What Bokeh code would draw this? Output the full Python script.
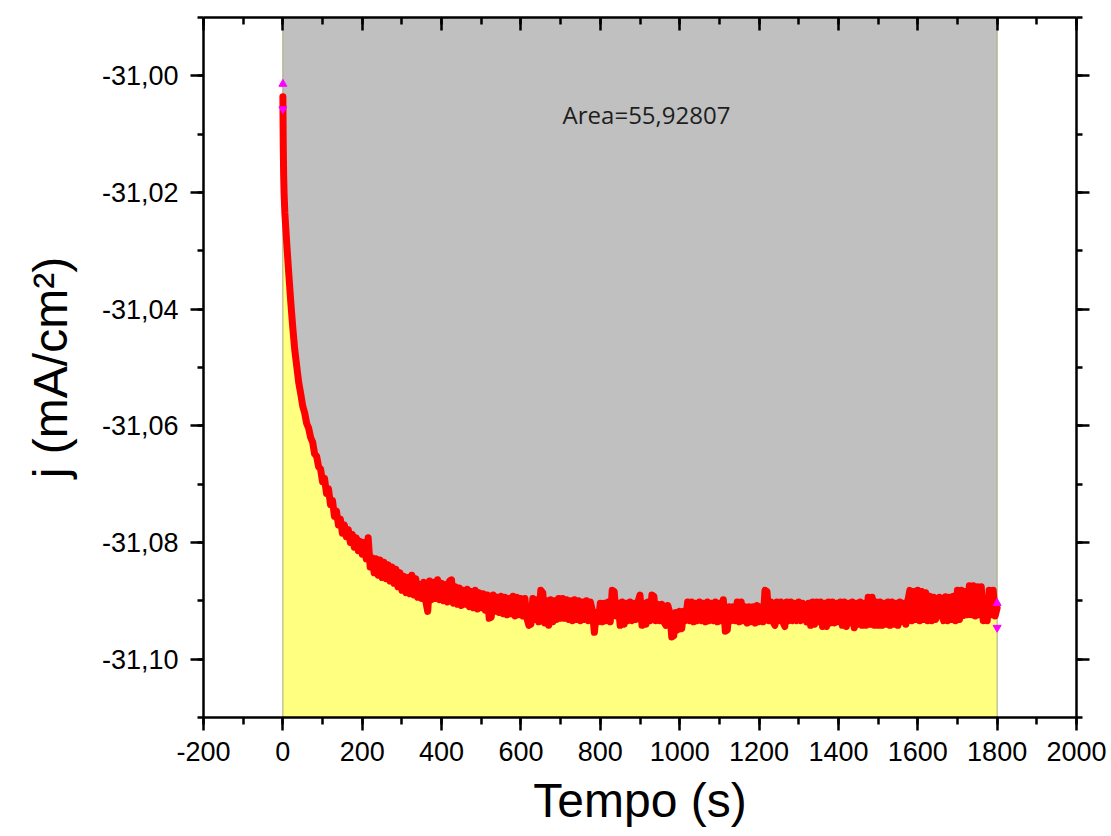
from bokeh.plotting import figure
from bokeh.models import Range1d, LinearAxis, FixedTicker, Label
from bokeh.embed import file_html
from bokeh.resources import INLINE

# ---------------- data ----------------
t = [0, 1, 2, 3] + list(range(5, 1801, 5))  # time (s)
j = [
    -31.0036, -31.0120, -31.0170, -31.0200,
    # 5-100
    -31.0235, -31.0290, -31.0340, -31.0388, -31.0432, -31.0470, -31.0498, -31.0526, -31.0545, -31.0566,
    -31.0578, -31.0596, -31.0604, -31.0620, -31.0628, -31.0648, -31.0652, -31.0670, -31.0674, -31.0696,
    # 105-200
    -31.0690, -31.0716, -31.0708, -31.0735, -31.0728, -31.0755, -31.0746, -31.0770, -31.0760, -31.0784,
    -31.0770, -31.0790, -31.0778, -31.0800, -31.0786, -31.0808, -31.0792, -31.0814, -31.0798, -31.0820,
    # 205-300
    -31.0800, -31.0828, -31.0792, -31.0842, -31.0826, -31.0852, -31.0828, -31.0856, -31.0830, -31.0860,
    -31.0834, -31.0862, -31.0838, -31.0866, -31.0842, -31.0870, -31.0846, -31.0876, -31.0852, -31.0882,
    # 305-400
    -31.0858, -31.0886, -31.0860, -31.0888, -31.0856, -31.0890, -31.0862, -31.0894, -31.0872, -31.0896,
    -31.0868, -31.0900, -31.0918, -31.0866, -31.0898, -31.0868, -31.0896, -31.0864, -31.0898, -31.0870,
    # 405-500
    -31.0900, -31.0872, -31.0902, -31.0866, -31.0864, -31.0904, -31.0876, -31.0906, -31.0878, -31.0908,
    -31.0882, -31.0906, -31.0880, -31.0910, -31.0884, -31.0912, -31.0882, -31.0914, -31.0886, -31.0912,
    # 505-600
    -31.0888, -31.0916, -31.0890, -31.0930, -31.0928, -31.0890, -31.0918, -31.0894, -31.0920, -31.0892,
    -31.0922, -31.0894, -31.0924, -31.0896, -31.0922, -31.0892, -31.0926, -31.0894, -31.0924, -31.0896,
    # 605-700
    -31.0926, -31.0896, -31.0930, -31.0942, -31.0940, -31.0896, -31.0932, -31.0898, -31.0936, -31.0882,
    -31.0886, -31.0938, -31.0900, -31.0942, -31.0898, -31.0936, -31.0900, -31.0932, -31.0896, -31.0930,
    # 705-800
    -31.0896, -31.0930, -31.0898, -31.0932, -31.0900, -31.0934, -31.0898, -31.0932, -31.0900, -31.0934,
    -31.0902, -31.0932, -31.0900, -31.0934, -31.0902, -31.0918, -31.0954, -31.0920, -31.0936, -31.0904,
    # 805-900
    -31.0936, -31.0904, -31.0934, -31.0902, -31.0936, -31.0882, -31.0884, -31.0926, -31.0904, -31.0942,
    -31.0902, -31.0940, -31.0904, -31.0934, -31.0902, -31.0934, -31.0904, -31.0932, -31.0902, -31.0890,
    # 905-1000
    -31.0942, -31.0904, -31.0940, -31.0902, -31.0934, -31.0890, -31.0892, -31.0934, -31.0906, -31.0934,
    -31.0906, -31.0936, -31.0942, -31.0908, -31.0920, -31.0962, -31.0960, -31.0920, -31.0950, -31.0918,
    # 1005-1100
    -31.0948, -31.0918, -31.0934, -31.0902, -31.0934, -31.0902, -31.0936, -31.0904, -31.0934, -31.0902,
    -31.0934, -31.0904, -31.0936, -31.0902, -31.0934, -31.0904, -31.0934, -31.0902, -31.0936, -31.0904,
    # 1105-1200
    -31.0934, -31.0898, -31.0952, -31.0950, -31.0910, -31.0934, -31.0910, -31.0934, -31.0902, -31.0936,
    -31.0902, -31.0934, -31.0910, -31.0938, -31.0910, -31.0936, -31.0910, -31.0938, -31.0908, -31.0936,
    # 1205-1300
    -31.0910, -31.0936, -31.0882, -31.0884, -31.0934, -31.0902, -31.0936, -31.0942, -31.0902, -31.0934,
    -31.0902, -31.0936, -31.0944, -31.0902, -31.0934, -31.0902, -31.0934, -31.0904, -31.0934, -31.0902,
    # 1305-1400
    -31.0934, -31.0904, -31.0919, -31.0936, -31.0904, -31.0942, -31.0902, -31.0940, -31.0902, -31.0936,
    -31.0902, -31.0944, -31.0904, -31.0944, -31.0902, -31.0938, -31.0902, -31.0938, -31.0904, -31.0936,
    # 1405-1500
    -31.0902, -31.0942, -31.0902, -31.0944, -31.0904, -31.0938, -31.0902, -31.0946, -31.0904, -31.0940,
    -31.0902, -31.0942, -31.0904, -31.0942, -31.0894, -31.0940, -31.0894, -31.0942, -31.0902, -31.0942,
    # 1505-1600
    -31.0902, -31.0942, -31.0904, -31.0940, -31.0902, -31.0942, -31.0902, -31.0940, -31.0904, -31.0942,
    -31.0902, -31.0936, -31.0904, -31.0940, -31.0900, -31.0882, -31.0934, -31.0884, -31.0932, -31.0882,
    # 1605-1700
    -31.0934, -31.0884, -31.0932, -31.0886, -31.0934, -31.0892, -31.0934, -31.0894, -31.0932, -31.0920,
    -31.0894, -31.0920, -31.0934, -31.0893, -31.0934, -31.0894, -31.0932, -31.0892, -31.0934, -31.0882,
    # 1705-1800
    -31.0932, -31.0882, -31.0925, -31.0884, -31.0924, -31.0874, -31.0924, -31.0874, -31.0926, -31.0876,
    -31.0924, -31.0876, -31.0934, -31.0896, -31.0934, -31.0882, -31.0924, -31.0882, -31.0926, -31.0912,
]
assert len(t) == len(j), (len(t), len(j))

# integration-limit markers (magenta)
mark_up_t = [0, 1800]
mark_up_j = [-31.0014, -31.0904]
mark_dn_t = [0, 1800]
mark_dn_j = [-31.0057, -31.0946]

area_text = "Area=55,92807"

x_ticks = [-200, 0, 200, 400, 600, 800, 1000, 1200, 1400, 1600, 1800, 2000]
x_tick_labels = ["-200", "0", "200", "400", "600", "800", "1000", "1200", "1400", "1600", "1800", "2000"]
x_minor = list(range(-200, 2001, 100))
y_ticks = [-31.10, -31.08, -31.06, -31.04, -31.02, -31.00]
y_tick_labels = ["-31,10", "-31,08", "-31,06", "-31,04", "-31,02", "-31,00"]
y_minor = [-31.11, -31.10, -31.09, -31.08, -31.07, -31.06, -31.05, -31.04, -31.03, -31.02, -31.01, -31.00, -30.99]

X_MIN, X_MAX = -200, 2000
Y_BOT, Y_TOP = -31.11, -30.99

# ---------------- figure ----------------
FONT = "Liberation Sans"
p = figure(width=1111, height=836, output_backend="svg", toolbar_location=None,
           x_range=Range1d(X_MIN, X_MAX), y_range=Range1d(Y_BOT, Y_TOP),
           min_border_left=203, min_border_right=35, min_border_top=17, min_border_bottom=119)
p.outline_line_color = None
p.xgrid.visible = False
p.ygrid.visible = False
p.background_fill_color = "white"
p.border_fill_color = "white"

# fills
p.varea(x=t, y1=j, y2=Y_TOP, fill_color="#C0C0C0")
p.varea(x=t, y1=Y_BOT, y2=j, fill_color="#FFFF80")
p.segment(x0=[t[0], t[-1]], y0=[Y_BOT, Y_BOT], x1=[t[0], t[-1]], y1=[Y_TOP, Y_TOP],
          line_color="#A8A878", line_width=1)

# data line
p.line(t, j, line_color="#FF0000", line_width=7, line_join="round", line_cap="round")

# markers
p.scatter(mark_up_t, mark_up_j, marker="triangle", size=8, fill_color="#FF00FF", line_color="#FF00FF")
p.scatter(mark_dn_t, mark_dn_j, marker="inverted_triangle", size=8, fill_color="#FF00FF", line_color="#FF00FF")

p.add_layout(Label(x=705, y=-31.0066, text=area_text, text_font="Open Sans",
                   text_font_size="24px", text_color="#1E1E1E", text_baseline="alphabetic"))

def style_axis(ax):
    ax.axis_line_color = "black"
    ax.axis_line_width = 2.5
    ax.major_tick_line_color = "black"
    ax.major_tick_line_width = 2.5
    ax.minor_tick_line_color = "black"
    ax.minor_tick_line_width = 2.5

# bottom axis
bx = p.below[0]
bx.ticker = FixedTicker(ticks=x_ticks, minor_ticks=x_minor)
bx.major_label_overrides = dict(zip(x_ticks, x_tick_labels))
bx.major_tick_out = 13
bx.major_tick_in = 0
bx.minor_tick_out = 7
bx.minor_tick_in = 0
bx.major_label_standoff = 11
bx.major_label_text_font = FONT
bx.major_label_text_font_size = "27px"
bx.major_label_text_color = "black"
bx.axis_label = "Tempo (s)"
bx.axis_label_text_font = FONT
bx.axis_label_text_font_size = "48px"
bx.axis_label_text_font_style = "normal"
bx.axis_label_text_color = "black"
bx.axis_label_standoff = 10
style_axis(bx)

# left axis
ly = p.left[0]
ly.ticker = FixedTicker(ticks=y_ticks, minor_ticks=y_minor)
ly.major_label_overrides = dict(zip(y_ticks, y_tick_labels))
ly.major_tick_out = 13
ly.major_tick_in = 0
ly.minor_tick_out = 6
ly.minor_tick_in = 0
ly.major_label_standoff = 12
ly.major_label_text_font = FONT
ly.major_label_text_font_size = "27px"
ly.major_label_text_color = "black"
ly.axis_label = "j (mA/cm²)"
ly.axis_label_text_font = FONT
ly.axis_label_text_font_size = "48px"
ly.axis_label_text_font_style = "normal"
ly.axis_label_text_color = "black"
ly.axis_label_standoff = 22
style_axis(ly)

# top axis (ticks inward, labels not drawn)
tx = LinearAxis(ticker=FixedTicker(ticks=x_ticks, minor_ticks=x_minor),
                major_tick_in=13, major_tick_out=0, minor_tick_in=7, minor_tick_out=0,
                major_label_text_color=None, major_label_standoff=0)
style_axis(tx)
p.add_layout(tx, "above")

# right axis (ticks outward, labels not drawn)
ry = LinearAxis(ticker=FixedTicker(ticks=y_ticks, minor_ticks=y_minor),
                major_tick_in=0, major_tick_out=13, minor_tick_in=0, minor_tick_out=6,
                major_label_text_color=None, major_label_standoff=0)
style_axis(ry)
p.add_layout(ry, "right")

open("out.html", "w").write(file_html(p, INLINE))
